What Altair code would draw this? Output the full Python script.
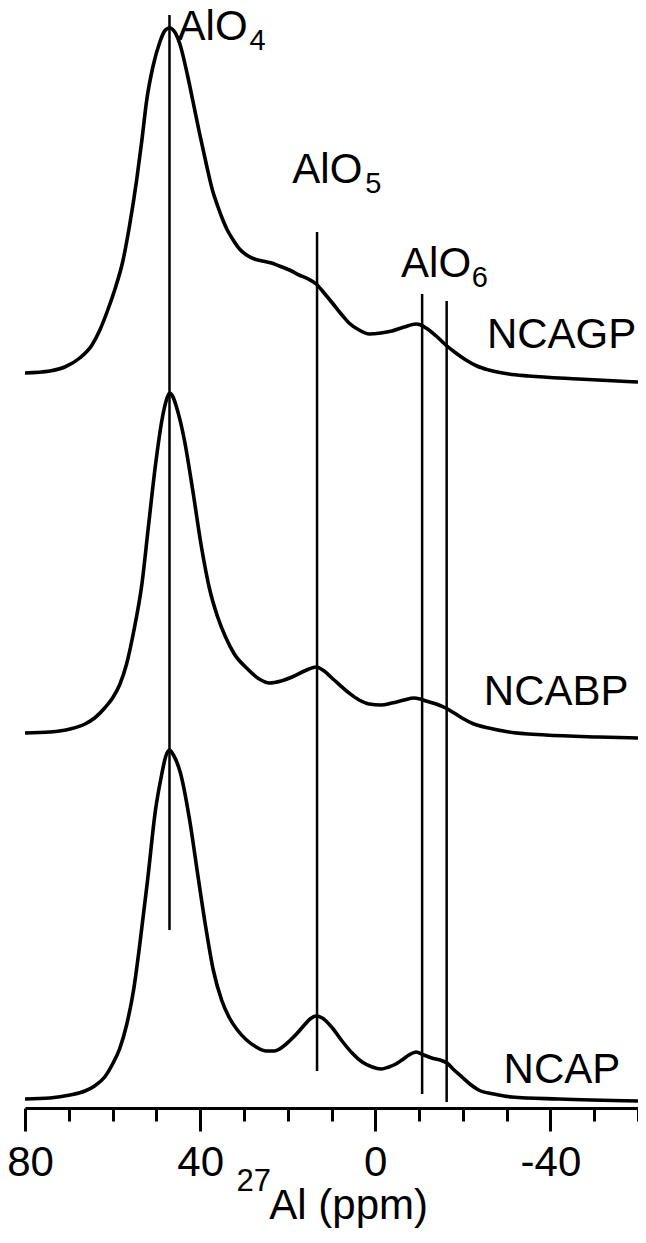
import altair as alt
import pandas as pd

# ---- spectra (27Al MAS NMR), chemical shift in ppm, intensity in a.u. ----
samples = ["NCAGP", "NCABP", "NCAP"]
offsets = [726, 370, 7]

ncagp_ppm = [80.0, 74.3, 70.9, 67.5, 64.7, 62.9, 61.1, 59.3, 57.7, 56.1,
             54.5, 53.3, 52.2, 50.8, 49.2, 48.1, 47.0, 45.8, 44.7, 42.9,
             41.7, 40.1, 38.5, 37.2, 36.0, 34.9, 33.8, 32.6, 31.0, 29.4,
             27.6, 25.8, 23.7, 21.9, 19.6, 17.4, 15.3, 13.5, 11.7, 9.8,
             7.8, 6.0, 3.7, 1.4, -1.3, -3.8, -6.6, -9.3, -10.4, -11.6,
             -13.9, -16.1, -18.4, -20.7, -23.2, -25.9, -30.5, -35.0, -46.4, -60.0]
ncagp_int = [9, 11, 15, 24, 37, 52, 72, 95, 120, 157,
             202, 242, 282, 315, 340, 351, 354, 350, 339, 307,
             282, 248, 216, 192, 176, 163, 152, 143, 133, 127,
             123, 121, 119, 116, 112, 107, 103, 98, 89, 79,
             68, 59, 52, 48, 49, 51, 55, 58, 57, 54,
             46, 37, 29, 22, 16, 12, 8, 6, 3, 0]

ncabp_ppm = [80.0, 74.3, 69.7, 66.3, 64.1, 61.8, 60.0, 58.4, 56.8, 55.2,
             53.3, 51.8, 50.2, 48.6, 47.7, 47.0, 46.3, 45.4, 43.6, 41.7,
             39.7, 37.9, 36.0, 34.2, 32.2, 29.4, 26.5, 24.2, 21.5, 19.0,
             16.2, 13.5, 11.7, 9.4, 6.0, 3.7, 1.4, -1.3, -3.8, -6.6,
             -8.8, -10.2, -11.6, -13.9, -16.1, -18.0, -19.8, -22.5, -25.9, -30.5,
             -38.9, -51.0, -60.0]
ncabp_int = [5, 6, 9, 14, 20, 30, 40, 53, 74, 106,
             154, 212, 273, 321, 338, 345, 342, 331, 298, 248,
             191, 150, 121, 101, 84, 70, 59, 55, 57, 61,
             67, 71, 67, 58, 45, 38, 34, 33, 35, 38,
             40, 39, 37, 34, 30, 25, 20, 14, 10, 6,
             3, 1, 0]

ncap_ppm = [80.0, 74.3, 69.7, 66.3, 64.1, 61.8, 60.0, 58.4, 56.8, 55.2,
            53.8, 52.0, 50.2, 48.8, 47.9, 47.0, 46.1, 44.5, 42.4, 40.6,
            38.8, 37.0, 35.1, 33.3, 31.5, 29.4, 27.2, 24.9, 23.1, 21.2,
            19.6, 18.0, 16.2, 14.9, 13.5, 12.1, 9.8, 7.6, 5.3, 3.0,
            0.7, -1.3, -3.1, -4.7, -6.1, -7.7, -9.3, -11.1, -12.9, -14.8,
            -16.4, -18.0, -19.8, -21.6, -23.6, -27.1, -31.2, -41.9, -60.0]
ncap_int = [2, 3, 6, 10, 15, 24, 37, 52, 76, 111,
            156, 221, 291, 326, 344, 351, 346, 328, 281, 228,
            176, 131, 101, 83, 71, 61, 54, 50, 50, 54,
            60, 67, 76, 82, 85, 83, 73, 60, 48, 39,
            34, 32, 34, 37, 41, 46, 49, 46, 43, 41,
            38, 31, 24, 17, 11, 7, 4, 2, 0]

# ---- reference lines for Al sites ----
site_ppm = [47.0, 13.3, -10.7, -16.3]
site_top = [1093, 876, 814, 807]
site_bottom = [178, 37, 14, 6]

# ---- annotation texts ----
big_text = ["AlO", "AlO", "AlO", "NCAGP", "NCABP", "NCAP", "Al (ppm)"]
big_ppm = [45.15, 18.95, -5.88, -25.5, -24.8, -29.3, 24.2]
big_v = [1068, 925, 831, 760, 403, 25, -111]

small_text = ["4", "5", "6", "27"]
small_ppm = [28.75, 2.3, -22.05, 31.7]
small_v = [1058, 915, 821, -83]
small_size = [29, 29, 29, 31]

tick_values = list(range(80, -61, -10))

# ---- build tables ----
rows = []
for name, off, xs, ys in zip(samples, offsets,
                             [ncagp_ppm, ncabp_ppm, ncap_ppm],
                             [ncagp_int, ncabp_int, ncap_int]):
    for p, i in zip(xs, ys):
        rows.append({"sample": name, "ppm": p, "v": i + off})
spec_df = pd.DataFrame(rows)

rule_df = pd.DataFrame({"ppm": site_ppm, "v": site_top, "v2": site_bottom})
big_df = pd.DataFrame({"label": big_text, "ppm": big_ppm, "v": big_v})
small_df = pd.DataFrame({"label": small_text, "ppm": small_ppm, "v": small_v,
                         "size": small_size})

FONT = "Liberation Sans"

x_axis = alt.Axis(
    values=tick_values,
    labelExpr="datum.value % 40 === 0 ? '' + datum.value : ''",
    tickSize={"condition": {"test": "datum.value % 40 === 0", "value": 23}, "value": 13},
    labelOffset={"condition": {"test": "datum.value === 80", "value": 5}, "value": 0},
    labelFont=FONT,
    labelFontSize=42,
    labelColor="black",
    labelPadding=11,
    labelOverlap=False,
    labelFlush=False,
    domainColor="black",
    domainWidth=3,
    tickColor="black",
    tickWidth=3,
    grid=False,
)

xscale = alt.Scale(domain=[-60, 80], reverse=True, nice=False, zero=False)
yscale = alt.Scale(domain=[0, 1100], nice=False, zero=False)

xenc = alt.X("ppm:Q", scale=xscale, axis=x_axis, title=None)
yenc = alt.Y("v:Q", scale=yscale, axis=None)

lines = alt.Chart(spec_df).mark_line(
    color="black", strokeWidth=3.6, interpolate="monotone"
).encode(x=xenc, y=yenc, detail="sample:N")

rules = alt.Chart(rule_df).mark_rule(color="black", strokeWidth=2.5).encode(
    x=xenc, y=yenc, y2="v2:Q"
)

big = alt.Chart(big_df).mark_text(
    align="left", baseline="alphabetic", font=FONT, fontSize=42, color="black"
).encode(x=xenc, y=yenc, text="label:N")

small = alt.Chart(small_df).mark_text(
    align="left", baseline="alphabetic", font=FONT, color="black"
).encode(x=xenc, y=yenc, text="label:N", size=alt.Size("size:Q", scale=None, legend=None))

chart = alt.layer(lines, rules, big, small).properties(
    width=613,
    height=1100,
    padding={"left": 17, "top": 0, "right": 0, "bottom": 121},
    autosize=alt.AutoSizeParams(type="none"),
).configure_view(strokeWidth=0)

chart.save("out.html", embed_options={"renderer": "svg", "actions": False})
